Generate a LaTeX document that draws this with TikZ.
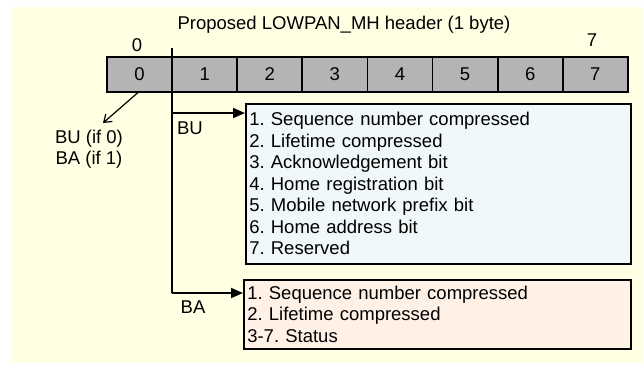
\documentclass[tikz,border=0pt]{standalone}
\usepackage{fontspec}
\setmainfont{Liberation Sans}
\usetikzlibrary{arrows.meta}
\definecolor{bgcream}{HTML}{FFFFE3}
\definecolor{cellgray}{HTML}{B4B4B4}
\definecolor{bublue}{HTML}{F0F8FA}
\definecolor{bapeach}{HTML}{FFF1E6}
\frenchspacing
\tikzset{
  txt/.style={font=\fontsize{18.5}{21.5}\selectfont, inner sep=0pt},
  cell/.style={txt, draw, fill=cellgray, line width=1.8pt,
    minimum width=65.1pt, minimum height=35pt},
  listbox/.style={txt, draw, line width=1.6pt, anchor=north west,
    align=left, text width=378pt, inner xsep=3.5pt, inner ysep=0pt},
  wire/.style={line width=1.8pt},
  feed/.style={wire, -{Triangle[length=12pt,width=10pt]}},
}
\begin{document}
\begin{tikzpicture}[x=1pt,y=-1pt]
\useasboundingbox (0,0) rectangle (643,365);
\fill[bgcream] (12,7) rectangle (643,363);

% header title and bit positions
\node[txt] (title) at (344,25) {Proposed LOWPAN\_MH header (1 byte)};
\node[txt] (pos0) at (137,45) {0};
\node[txt] (pos7) at (592,40) {7};

% the eight bit cells
\foreach \i in {0,...,7}
  \node[cell] (c\i) at ({107+32.55+65.1*\i},74.5) {\i};

% bit 0 selects the message type
\node[txt, align=center] (sel) at (89,149) {BU (if 0)\\BA (if 1)};
\coordinate (seltip) at (103,123);
\draw[wire, line width=1.2pt, -{Straight Barb[length=7pt,width=10pt]}] (138,92.5) -- (seltip);

% flag lists
\node[listbox, fill=bublue, minimum height=160pt] (bubox) at (245,103) {%
1. Sequence number compressed\\
2. Lifetime compressed\\
3. Acknowledgement bit\\
4. Home registration bit\\
5. Mobile network prefix bit\\
6. Home address bit\\
7. Reserved};
\node[listbox, fill=bapeach, minimum height=69pt, text width=380pt] (babox) at (243,279) {%
1. Sequence number compressed\\
2. Lifetime compressed\\
3-7. Status};

% branch line from the bit-0 boundary
\coordinate (vtop) at (172,48);
\coordinate (vbu) at (172,113);
\coordinate (vba) at (172,293);
\draw[wire] (vtop) -- (vba);
\draw[feed] (vbu) -- (vbu -| bubox.west);
\draw[feed] (vba) -- (vba -| babox.west);
\node[txt] (bulbl) at (190,128) {BU};
\node[txt] (balbl) at (193,307) {BA};
\end{tikzpicture}
\end{document}
